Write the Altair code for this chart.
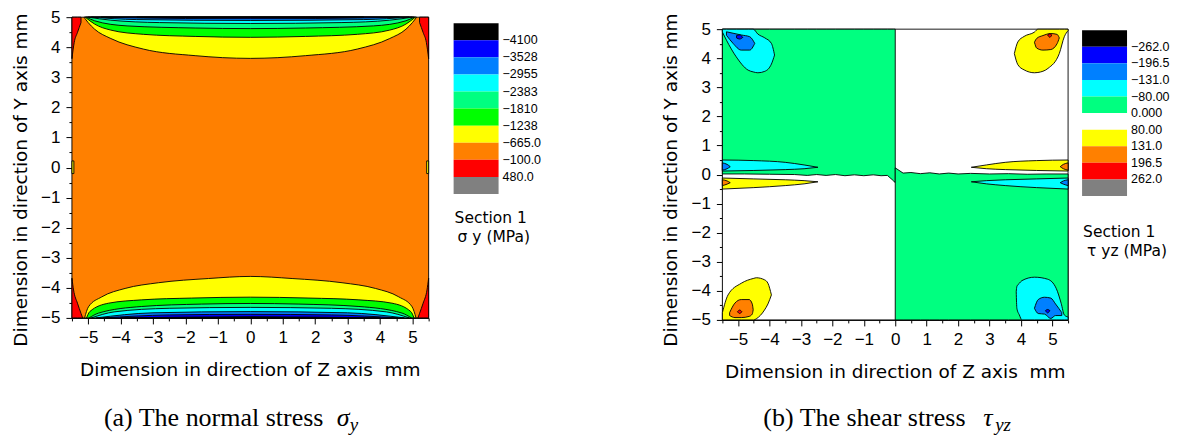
import altair as alt
import pandas as pd

# ---------------- colour levels ----------------
LEVEL_NAMES = ['black', 'blue', 'dodger', 'cyan', 'spring', 'green', 'yellow', 'orange', 'red', 'gray', 'white']
LEVEL_COLORS = ['#000000', '#0000ff', '#0080ff', '#00ffff', '#00ff80', '#00ff00', '#ffff00', '#ff8000', '#ff0000', '#808080', '#ffffff']

# ---------------- legends ----------------
LEG_A_SWATCHES = ['black', 'blue', 'dodger', 'cyan', 'spring', 'green', 'yellow', 'orange', 'red', 'gray']
LEG_A_LABELS = ['−4100', '−3528', '−2955', '−2383', '−1810', '−1238', '−665.0', '−100.0', '480.0', '']
LEG_B_SWATCHES = ['black', 'blue', 'dodger', 'cyan', 'spring', 'white', 'yellow', 'orange', 'red', 'gray']
LEG_B_LABELS = ['−262.0', '−196.5', '−131.0', '−80.00', '0.000', '80.00', '131.0', '196.5', '262.0', '']

# ---------------- axis ticks ----------------
Z_TICKS = [-5.5, -5.0, -4.5, -4.0, -3.5, -3.0, -2.5, -2.0, -1.5, -1.0, -0.5, 0.0,
           0.5, 1.0, 1.5, 2.0, 2.5, 3.0, 3.5, 4.0, 4.5, 5.0, 5.5]
Y_TICKS = [-5.0, -4.5, -4.0, -3.5, -3.0, -2.5, -2.0, -1.5, -1.0, -0.5, 0.0,
           0.5, 1.0, 1.5, 2.0, 2.5, 3.0, 3.5, 4.0, 4.5, 5.0]
Z_DOMAIN = [-5.5, 5.5]
Y_DOMAIN = [-5.0, 5.0]
TOP = 5.0
BOT = -5.0

# ================= panel (a): sigma_y contour boundaries =================
A_BG_X = [-5.5, 5.5]
A_TOP_YELLOW_X = [-5.13, -5.0, -4.8, -4.3, -3.3, -1.7, 0.0, 1.7, 3.3, 4.3, 4.8, 5.0, 5.13]
A_TOP_YELLOW_LO = [5.0, 4.82, 4.6, 4.29, 3.94, 3.72, 3.63, 3.72, 3.94, 4.29, 4.6, 4.82, 5.0]
A_TOP_GREEN_X = [-5.09, -4.8, -4.3, -3.3, -1.7, 0.0, 1.7, 3.3, 4.3, 4.8, 5.09]
A_TOP_GREEN_LO = [5.0, 4.77, 4.57, 4.43, 4.36, 4.33, 4.36, 4.43, 4.57, 4.77, 5.0]
A_TOP_SPRING_X = [-5.05, -4.8, -3.8, -1.7, 0.0, 1.7, 3.8, 4.8, 5.05]
A_TOP_SPRING_LO = [5.0, 4.88, 4.71, 4.64, 4.62, 4.64, 4.71, 4.88, 5.0]
A_TOP_CYAN_X = [-5.0, -4.3, -2.8, 0.0, 2.8, 4.3, 5.0]
A_TOP_CYAN_LO = [5.0, 4.9, 4.82, 4.79, 4.82, 4.9, 5.0]
A_TOP_DODGER_X = [-4.9, -3.5, 0.0, 3.5, 4.9]
A_TOP_DODGER_LO = [5.0, 4.92, 4.89, 4.92, 5.0]
A_TOP_BLUE_X = [-4.6, -2.0, 0.0, 2.0, 4.6]
A_TOP_BLUE_LO = [5.0, 4.955, 4.95, 4.955, 5.0]
A_TOP_BLACK_X = [-3.5, 0.0, 3.5]
A_TOP_BLACK_LO = [5.0, 4.985, 5.0]
A_BOT_YELLOW_X = [-5.11, -4.99, -4.58, -3.86, -2.83, -1.29, 0.0, 1.29, 2.83, 3.86, 4.58, 4.99, 5.11]
A_BOT_YELLOW_HI = [-5.0, -4.63, -4.3, -4.02, -3.83, -3.69, -3.62, -3.69, -3.83, -4.02, -4.3, -4.63, -5.0]
A_BOT_GREEN_X = [-5.05, -4.95, -4.37, -3.35, -1.81, 0.0, 1.81, 3.35, 4.37, 4.95, 5.05]
A_BOT_GREEN_HI = [-5.0, -4.79, -4.51, -4.4, -4.34, -4.31, -4.34, -4.4, -4.51, -4.79, -5.0]
A_BOT_SPRING_X = [-4.97, -4.68, -3.35, -1.5, 0.0, 1.5, 3.35, 4.68, 4.97]
A_BOT_SPRING_HI = [-5.0, -4.84, -4.62, -4.54, -4.52, -4.54, -4.62, -4.84, -5.0]
A_BOT_CYAN_X = [-4.9, -4.2, -2.5, 0.0, 2.5, 4.2, 4.9]
A_BOT_CYAN_HI = [-5.0, -4.8, -4.68, -4.65, -4.68, -4.8, -5.0]
A_BOT_DODGER_X = [-4.75, -3.0, 0.0, 3.0, 4.75]
A_BOT_DODGER_HI = [-5.0, -4.83, -4.79, -4.83, -5.0]
A_BOT_BLUE_X = [-4.55, -2.5, 0.0, 2.5, 4.55]
A_BOT_BLUE_HI = [-5.0, -4.9, -4.88, -4.9, -5.0]
A_BOT_BLACK_X = [-4.0, 0.0, 4.0]
A_BOT_BLACK_HI = [-5.0, -4.96, -5.0]
A_RED_TL_X = [-5.5, -5.43, -5.33, -5.22]
A_RED_TL_LO = [3.62, 4.16, 4.49, 4.82]
A_RED_TR_X = [5.22, 5.33, 5.43, 5.5]
A_RED_TR_LO = [4.82, 4.49, 4.16, 3.62]
A_RED_BL_X = [-5.5, -5.45, -5.33, -5.22, -5.17]
A_RED_BL_HI = [-3.68, -4.07, -4.51, -4.85, -5.0]
A_RED_BR_X = [5.17, 5.22, 5.33, 5.45, 5.5]
A_RED_BR_HI = [-5.0, -4.85, -4.51, -4.07, -3.68]
A_EDGE_L_X = [-5.5, -5.44]
A_EDGE_R_X = [5.44, 5.5]
A_EDGE_HI = [0.22, 0.22]
A_EDGE_LO = [-0.2, -0.2]

POLYS_A = [
    ('bg', 'orange', 0, A_BG_X, TOP, BOT),
    ('ty', 'yellow', 1, A_TOP_YELLOW_X, TOP, A_TOP_YELLOW_LO),
    ('by', 'yellow', 1, A_BOT_YELLOW_X, A_BOT_YELLOW_HI, BOT),
    ('rtl', 'red', 1, A_RED_TL_X, TOP, A_RED_TL_LO),
    ('rtr', 'red', 1, A_RED_TR_X, TOP, A_RED_TR_LO),
    ('rbl', 'red', 1, A_RED_BL_X, A_RED_BL_HI, BOT),
    ('rbr', 'red', 1, A_RED_BR_X, A_RED_BR_HI, BOT),
    ('el', 'yellow', 1, A_EDGE_L_X, A_EDGE_HI, A_EDGE_LO),
    ('er', 'yellow', 1, A_EDGE_R_X, A_EDGE_HI, A_EDGE_LO),
    ('tg', 'green', 2, A_TOP_GREEN_X, TOP, A_TOP_GREEN_LO),
    ('bg2', 'green', 2, A_BOT_GREEN_X, A_BOT_GREEN_HI, BOT),
    ('ts', 'spring', 3, A_TOP_SPRING_X, TOP, A_TOP_SPRING_LO),
    ('bs', 'spring', 3, A_BOT_SPRING_X, A_BOT_SPRING_HI, BOT),
    ('tc', 'cyan', 4, A_TOP_CYAN_X, TOP, A_TOP_CYAN_LO),
    ('bc', 'cyan', 4, A_BOT_CYAN_X, A_BOT_CYAN_HI, BOT),
    ('td', 'dodger', 5, A_TOP_DODGER_X, TOP, A_TOP_DODGER_LO),
    ('bd', 'dodger', 5, A_BOT_DODGER_X, A_BOT_DODGER_HI, BOT),
    ('tb', 'blue', 6, A_TOP_BLUE_X, TOP, A_TOP_BLUE_LO),
    ('bb', 'blue', 6, A_BOT_BLUE_X, A_BOT_BLUE_HI, BOT),
    ('tk', 'black', 7, A_TOP_BLACK_X, TOP, A_TOP_BLACK_LO),
    ('bk', 'black', 7, A_BOT_BLACK_X, A_BOT_BLACK_HI, BOT),
]

# ================= panel (b): tau_yz contour boundaries =================
B_BG_X = [-5.5, 5.5]
B_GREEN_UL_X = [-5.5, -4.8, -4.0, -3.2, -2.8, -2.5, -2.2, -1.9, -1.6, -1.3, -1.0, -0.7, -0.45, -0.25, -0.05, 0.0]
B_GREEN_UL_LO = [0.02, 0.02, 0.01, 0.0, -0.03, 0.0, -0.03, 0.0, -0.04, -0.01, -0.04, -0.01, -0.04, -0.03, -0.22, -0.28]
B_GREEN_LR_X = [0.0, 0.25, 0.5, 0.8, 1.1, 1.4, 1.7, 2.0, 2.4, 3.0, 3.6, 4.2, 4.8, 5.5]
B_GREEN_LR_HI = [0.23, 0.05, 0.07, 0.03, 0.06, 0.02, 0.05, 0.02, 0.04, 0.02, 0.03, 0.01, 0.02, 0.02]
B_UL_CYAN_X = [-5.5, -5.37, -5.06, -4.68, -4.52, -4.37, -4.15, -3.94, -3.84]
B_UL_CYAN_HI = [5.0, 5.0, 5.0, 5.0, 5.0, 4.83, 4.7, 4.51, 4.11]
B_UL_CYAN_LO = [4.9, 4.62, 4.05, 3.59, 3.53, 3.5, 3.55, 3.8, 4.11]
B_UL_DODGER_X = [-5.37, -5.16, -4.9, -4.63, -4.47]
B_UL_DODGER_HI = [4.91, 4.86, 4.8, 4.74, 4.51]
B_UL_DODGER_LO = [4.79, 4.51, 4.28, 4.28, 4.51]
B_UL_BLUE_X = [-5.05, -4.95, -4.85]
B_UL_BLUE_HI = [4.78, 4.8, 4.72]
B_UL_BLUE_LO = [4.7, 4.66, 4.72]
B_UR_YELLOW_X = [3.79, 3.9, 4.1, 4.43, 4.54, 4.86, 5.22, 5.38, 5.5]
B_UR_YELLOW_HI = [4.16, 4.56, 4.75, 4.9, 5.0, 5.0, 5.0, 5.0, 5.0]
B_UR_YELLOW_LO = [4.16, 3.78, 3.6, 3.5, 3.51, 3.65, 4.16, 4.74, 4.95]
B_UR_ORANGE_X = [4.43, 4.5, 4.7, 4.95, 5.15, 5.22]
B_UR_ORANGE_HI = [4.55, 4.68, 4.78, 4.85, 4.82, 4.7]
B_UR_ORANGE_LO = [4.55, 4.35, 4.28, 4.3, 4.5, 4.7]
B_UR_RED_X = [4.85, 4.92, 4.98]
B_UR_RED_HI = [4.8, 4.84, 4.8]
B_UR_RED_LO = [4.8, 4.72, 4.8]
B_LL_YELLOW_X = [-5.5, -5.32, -4.9, -4.5, -4.42, -4.16, -4.05, -3.94]
B_LL_YELLOW_HI = [-4.75, -4.14, -3.74, -3.57, -3.55, -3.62, -3.74, -4.14]
B_LL_YELLOW_LO = [-5.0, -5.0, -5.0, -5.0, -4.96, -4.66, -4.45, -4.14]
B_LL_ORANGE_X = [-5.27, -5.1, -4.9, -4.65, -4.55, -4.52]
B_LL_ORANGE_HI = [-4.75, -4.42, -4.3, -4.3, -4.45, -4.65]
B_LL_ORANGE_LO = [-4.85, -4.92, -4.92, -4.88, -4.8, -4.65]
B_LL_RED_X = [-5.02, -4.95, -4.88]
B_LL_RED_HI = [-4.72, -4.66, -4.72]
B_LL_RED_LO = [-4.72, -4.78, -4.72]
B_LR_CYAN_X = [3.85, 3.87, 3.95, 4.03, 4.43, 4.85, 5.12, 5.28, 5.38, 5.5]
B_LR_CYAN_HI = [-4.03, -3.85, -3.74, -3.65, -3.53, -3.6, -3.91, -4.43, -4.83, -4.9]
B_LR_CYAN_LO = [-4.03, -4.6, -4.83, -5.0, -5.0, -5.0, -5.0, -5.0, -5.0, -5.0]
B_LR_DODGER_X = [4.43, 4.55, 4.75, 4.95, 5.1, 5.3]
B_LR_DODGER_HI = [-4.6, -4.3, -4.22, -4.25, -4.45, -4.75]
B_LR_DODGER_LO = [-4.6, -4.78, -4.8, -4.95, -4.85, -4.85]
B_LR_BLUE_X = [4.78, 4.85, 4.92]
B_LR_BLUE_HI = [-4.68, -4.64, -4.68]
B_LR_BLUE_LO = [-4.68, -4.76, -4.68]
B_SL_L_X = [-5.5, -4.5, -3.5, -2.9, -2.46]
B_SL_L_UP_HI = [0.5, 0.48, 0.42, 0.33, 0.25]
B_SL_L_UP_LO = [0.12, 0.14, 0.17, 0.2, 0.25]
B_SL_L_DN_HI = [-0.12, -0.15, -0.18, -0.21, -0.25]
B_SL_L_DN_LO = [-0.5, -0.45, -0.38, -0.32, -0.25]
B_SL_R_X = [2.42, 2.9, 3.5, 4.5, 5.5]
B_SL_R_UP_HI = [0.25, 0.33, 0.42, 0.48, 0.5]
B_SL_R_UP_LO = [0.25, 0.2, 0.17, 0.14, 0.12]
B_SL_R_DN_HI = [-0.25, -0.21, -0.18, -0.15, -0.12]
B_SL_R_DN_LO = [-0.25, -0.32, -0.38, -0.45, -0.5]
B_TIP_L_X = [-5.5, -5.35, -5.25]
B_TIP_L_UP_HI = [0.4, 0.35, 0.27]
B_TIP_L_UP_LO = [0.15, 0.2, 0.27]
B_TIP_L_DN_HI = [-0.18, -0.22, -0.28]
B_TIP_L_DN_LO = [-0.38, -0.33, -0.28]
B_TIP_R_X = [5.25, 5.35, 5.5]
B_TIP_R_UP_HI = [0.27, 0.35, 0.4]
B_TIP_R_UP_LO = [0.27, 0.2, 0.15]
B_TIP_R_DN_HI = [-0.28, -0.22, -0.18]
B_TIP_R_DN_LO = [-0.28, -0.33, -0.38]

POLYS_B = [
    ('bg', 'white', 0, B_BG_X, TOP, BOT),
    ('gul', 'spring', 1, B_GREEN_UL_X, TOP, B_GREEN_UL_LO),
    ('glr', 'spring', 1, B_GREEN_LR_X, B_GREEN_LR_HI, BOT),
    ('ulc', 'cyan', 2, B_UL_CYAN_X, B_UL_CYAN_HI, B_UL_CYAN_LO),
    ('ury', 'yellow', 2, B_UR_YELLOW_X, B_UR_YELLOW_HI, B_UR_YELLOW_LO),
    ('lly', 'yellow', 2, B_LL_YELLOW_X, B_LL_YELLOW_HI, B_LL_YELLOW_LO),
    ('lrc', 'cyan', 2, B_LR_CYAN_X, B_LR_CYAN_HI, B_LR_CYAN_LO),
    ('slu', 'cyan', 2, B_SL_L_X, B_SL_L_UP_HI, B_SL_L_UP_LO),
    ('sld', 'yellow', 2, B_SL_L_X, B_SL_L_DN_HI, B_SL_L_DN_LO),
    ('sru', 'yellow', 2, B_SL_R_X, B_SL_R_UP_HI, B_SL_R_UP_LO),
    ('srd', 'cyan', 2, B_SL_R_X, B_SL_R_DN_HI, B_SL_R_DN_LO),
    ('uld', 'dodger', 3, B_UL_DODGER_X, B_UL_DODGER_HI, B_UL_DODGER_LO),
    ('uro', 'orange', 3, B_UR_ORANGE_X, B_UR_ORANGE_HI, B_UR_ORANGE_LO),
    ('llo', 'orange', 3, B_LL_ORANGE_X, B_LL_ORANGE_HI, B_LL_ORANGE_LO),
    ('lrd', 'dodger', 3, B_LR_DODGER_X, B_LR_DODGER_HI, B_LR_DODGER_LO),
    ('tlu', 'dodger', 3, B_TIP_L_X, B_TIP_L_UP_HI, B_TIP_L_UP_LO),
    ('tld', 'orange', 3, B_TIP_L_X, B_TIP_L_DN_HI, B_TIP_L_DN_LO),
    ('tru', 'orange', 3, B_TIP_R_X, B_TIP_R_UP_HI, B_TIP_R_UP_LO),
    ('trd', 'dodger', 3, B_TIP_R_X, B_TIP_R_DN_HI, B_TIP_R_DN_LO),
    ('ulb', 'blue', 4, B_UL_BLUE_X, B_UL_BLUE_HI, B_UL_BLUE_LO),
    ('urr', 'red', 4, B_UR_RED_X, B_UR_RED_HI, B_UR_RED_LO),
    ('llr', 'red', 4, B_LL_RED_X, B_LL_RED_HI, B_LL_RED_LO),
    ('lrb', 'blue', 4, B_LR_BLUE_X, B_LR_BLUE_HI, B_LR_BLUE_LO),
]


def to_frame(polys):
    rows = []
    for pid, lvl, z, xs, hi, lo in polys:
        for i, xv in enumerate(xs):
            rows.append({
                'poly': pid, 'level': lvl, 'z': z, 'x': xv,
                'y': hi[i] if isinstance(hi, list) else hi,
                'y2': lo[i] if isinstance(lo, list) else lo,
            })
    return pd.DataFrame(rows)


COLOR_SCALE = alt.Scale(domain=LEVEL_NAMES, range=LEVEL_COLORS)
SANS = 'DejaVu Sans'
TICK_FONT = 'Liberation Sans'
SERIF = 'Liberation Serif'
X_TITLE = 'Dimension in direction of Z axis\u00a0\u00a0mm'
Y_TITLE = 'Dimension in direction of Y axis mm'


def make_axis(values):
    return alt.Axis(
        values=values, title=None, grid=False,
        labelExpr="datum.value % 1 === 0 ? format(datum.value, 'd') : ''",
        tickSize={"condition": {"test": "datum.value % 1 === 0", "value": 6}, "value": 3},
        tickColor='black', domainColor='black', labelColor='black',
        labelFont=TICK_FONT, labelFontSize=17, labelPadding=6,
        labelOverlap=False, labelFlush=False, labelBound=False,
    )


def text_layer(text, x, y, **kw):
    return alt.Chart(pd.DataFrame({'t': [text]})).mark_text(**kw).encode(
        text='t:N', x=alt.value(x), y=alt.value(y))


def panel(polys, zmax, linear_upto, view_w, view_h, x_range, y_range,
          caption, cap_x, sym, sym_x, sub, sub_x):
    df = to_frame(polys)
    xenc = alt.X('x:Q', scale=alt.Scale(domain=Z_DOMAIN, range=x_range, nice=False, zero=False),
                 axis=make_axis(Z_TICKS))
    yenc = alt.Y('y:Q', scale=alt.Scale(domain=Y_DOMAIN, range=y_range, nice=False, zero=False),
                 axis=make_axis(Y_TICKS))
    layers = []
    for z in range(zmax + 1):
        interp = 'linear' if z <= linear_upto else 'monotone'
        layers.append(
            alt.Chart(df).transform_filter(alt.datum.z == z)
            .mark_area(interpolate=interp, stroke='black', strokeWidth=0.9, fillOpacity=1)
            .encode(x=xenc, y=yenc, y2=alt.Y2('y2:Q'),
                    fill=alt.Fill('level:N', scale=COLOR_SCALE, legend=None),
                    detail='poly:N')
        )
    mid_x = (x_range[0] + x_range[1]) / 2
    layers += [
        text_layer(Y_TITLE, -51, 172, angle=270, align='center',
                   baseline='middle', font=SANS, fontSize=18.5, color='black'),
        text_layer(X_TITLE, mid_x, view_h + 52, align='center',
                   baseline='middle', font=SANS, fontSize=18.5, color='black'),
        text_layer(caption, cap_x, 410, align='left', baseline='middle', font=SERIF,
                   fontSize=26, color='black'),
        text_layer(sym, sym_x, 410, align='left', baseline='middle', font=SERIF,
                   fontSize=26, fontStyle='italic', color='black'),
        text_layer(sub, sub_x, 417, align='left', baseline='middle', font=SERIF,
                   fontSize=19, fontStyle='italic', color='black'),
    ]
    return alt.layer(*layers).properties(width=view_w, height=view_h)


def legend(swatches, labels, top, bottom, view_w, sec_y, unit_text, unit_dx):
    ldf = pd.DataFrame({'slot': list(range(10)), 'level': swatches, 'label': labels})
    yscale = alt.Scale(domain=list(range(10)), range=[top, bottom], paddingInner=0, paddingOuter=0)
    rect = alt.Chart(ldf).mark_rect().encode(
        y=alt.Y('slot:O', scale=yscale, axis=None),
        x=alt.value(0), x2=alt.value(45),
        fill=alt.Fill('level:N', scale=COLOR_SCALE, legend=None))
    labs = alt.Chart(ldf).mark_text(align='left', baseline='middle',
                                    font='Liberation Sans Narrow, Liberation Sans',
                                    fontSize=12.5, color='black').encode(
        y=alt.Y('slot:O', scale=yscale, axis=None, bandPosition=1),
        x=alt.value(49), text='label:N')
    sec = text_layer('Section 1', 1, sec_y, align='left', baseline='middle', font=SANS,
                     fontSize=15.5, color='black')
    unit = text_layer(unit_text, unit_dx, sec_y + 19, align='left', baseline='middle', font=SANS,
                      fontSize=15.5, color='black')
    return alt.layer(rect, labs, sec, unit).properties(width=view_w, height=250)


panel_a = panel(POLYS_A, 7, -1, 382, 310, [0, 357], [310, 9],
                '(a) The normal stress', 32, 'σ', 265, 'y', 278)
legend_a = legend(LEG_A_SWATCHES, LEG_A_LABELS, 15, 186, 208, 210, 'σ y (MPa)', 4)
panel_b = panel(POLYS_B, 4, 1, 360, 312, [0, 346], [312, 21],
                '(b) The shear stress', 41, 'τ', 261, 'yz', 273)
legend_b = legend(LEG_B_SWATCHES, LEG_B_LABELS, 22, 188, 85, 224, 'τ yz (MPa)', 5)

chart = alt.hconcat(panel_a, legend_a, panel_b, legend_b, spacing=0).properties(
    padding={'left': 3, 'top': 0, 'right': 0, 'bottom': 0}
).configure_view(stroke=None)

chart.save("out.html", embed_options={"renderer": "svg", "actions": False})
